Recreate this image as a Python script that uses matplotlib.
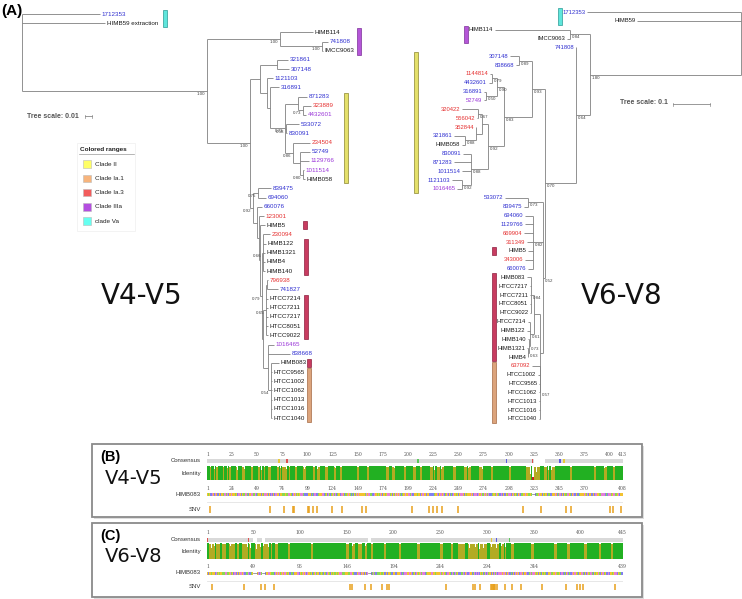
import matplotlib
matplotlib.use("Agg")
import matplotlib.pyplot as plt
from matplotlib.patches import Rectangle

W, H = 742, 599

# ---------------- data ----------------
# trees in newick form, branch lengths in tree units (left: 0.01 = 7 units, right: 0.1 = 37 units)
left_newick = """
(1712353:78,HIMB59_extraction:83,
 ((HIMB114:33,(741808:6,IMCC9063:1)1.00:42)1.00:73,
  (((321861:11,307148:12):17,
    (1121103:6,
     (316891:9,
      ((871283:9,(323889:8,4432601:3)0.73:5):13,
       (533072:13,830091:1)0.58:1,
       (234504:17,(52749:10,1129766:9,(1011514:0.5,HIMB058:2)0.80:3):7)0.86:8)0.73:15):3):7):10,
   ((839475:13,694060:8)0.75:5,
    (660076:5,
     (123001:5,
      (HIMB5:5,
       ((230094:7,HIMB122:3,HIMB1321:2,HIMB4:2,HIMB140:2)0.66:1,
        (((796938:1,741827:11):1,HTCC7214:2,HTCC7211:2,HTCC7217:2,HTCC8051:2,HTCC9022:2)0.65:3,
         (1016465:6,838668:22,
          (HIMB083:8,HTCC9565:1,HTCC1002:1,HTCC1062:1,HTCC1013:1,HTCC1016:1,HTCC1040:1)0.54:3):5):1)0.79:2):1):2):4)0.92:3)1.00:43)1.00:185);
"""

right_newick = """
(1712353:154,HIMB59:104,
 ((HIMB114:75,IMCC9063:3)0.84:20,
  (741808:0,
   (((307148:9,838668:3)0.89:13,
     (((1144814:2,4432601:3)0.79:5,(316891:2,52749:2)0.50:11)0.90:7,
      (((320422:16,556042:1)0.67:4,(352844:0,(321861:11,HIMB058:3)0.88:11):6):6,
       (830091:8,871283:17,1011514:9,(1121103:10,1016465:5)0.92:9)0.88:17)0.92:16)0.83:28)0.93:13,
    ((533072:23,839475:4)0.73:15,
     (694060:8,1129766:8,669904:9,311349:6,HIMB5:5,343006:8,660076:5)0.82:10,
     (((HIMB083:4,HTCC7217:1,HTCC7211:1,HTCC8051:1,HTCC9022:1)0.84:3,
       (HTCC7214:2,HIMB122:3,(HIMB140:1,(HIMB1321:1,HIMB4:0)0.63:1)0.73:1)0.61:4):6,
      (637092:8,HTCC1002:2,HTCC9565:1,HTCC1062:1,HTCC1013:1,HTCC1016:1,HTCC1040:1)0.57:0):3)0.52:2)0.70:31)0.64:14)1.80:151);
"""

left_blue = ["1712353", "741808", "321861", "307148", "1121103", "316891", "871283", "533072",
             "830091", "52749", "839475", "694060", "660076", "741827", "838668"]
left_red = ["323889", "234504", "123001", "230094", "796938"]
left_purple = ["4432601", "1129766", "1011514", "1016465"]

right_blue = ["1712353", "741808", "307148", "838668", "4432601", "316891", "321861", "830091",
              "871283", "1011514", "1121103", "533072", "839475", "694060", "1129766", "660076"]
right_red = ["1144814", "320422", "556042", "352844", "669904", "311349", "343006", "637092"]
right_purple = ["52749", "1016465"]

# colored ranges: tree, clade, first leaf, last leaf
ranges = [
    ("L", "clade Va", "1712353", "HIMB59_extraction"),
    ("L", "Clade IIIa", "HIMB114", "IMCC9063"),
    ("L", "Clade II", "871283", "HIMB058"),
    ("L", "Clade Ia.3", "HIMB5", "HIMB5"),
    ("L", "Clade Ia.3", "HIMB122", "HIMB140"),
    ("L", "Clade Ia.3", "HTCC7214", "HTCC9022"),
    ("L", "Clade Ia.3", "HIMB083", "HIMB083"),
    ("L", "Clade Ia.1", "HTCC9565", "HTCC1040"),
    ("R", "clade Va", "1712353", "HIMB59"),
    ("R", "Clade IIIa", "HIMB114", "IMCC9063"),
    ("R", "Clade II", "307148", "1016465"),
    ("R", "Clade Ia.3", "HIMB5", "HIMB5"),
    ("R", "Clade Ia.3", "HIMB083", "HIMB4"),
    ("R", "Clade Ia.1", "637092", "HTCC1040"),
]
range_x = [163, 357, 344, 303, 304, 304, 307, 307, 558, 464, 414, 492, 492, 492]

legend_clades = ["Clade II", "Clade Ia.1", "Clade Ia.3", "Clade IIIa", "clade Va"]
legend_colors = ["#ffff66", "#f7b47c", "#f25c5c", "#b44ee0", "#66fff0"]
bar_colors = {"Clade II": ("#e4e06a", "#8a8630"), "Clade Ia.1": ("#dca47c", "#a56b45"),
              "Clade Ia.3": ("#c83c60", "#8e2040"), "Clade IIIa": ("#b556d8", "#7d3099"),
              "clade Va": ("#5fe6dc", "#2a9a95")}

# alignment panels
b_len = 413
b_cons_ticks = [1, 25, 50, 75, 100, 125, 150, 175, 200, 225, 250, 275, 300, 325, 350, 375, 400, 413]
b_seq_labels = [1, 24, 49, 74, 99, 124, 149, 174, 199, 224, 249, 274, 298, 323, 345, 370, 408]
b_seq_label_pos = [1, 25, 50, 75, 100, 125, 150, 175, 200, 225, 250, 275, 300, 325, 350, 375, 413]
b_olive = [(4, 4), (10, 11), (17, 17), (23, 24), (30, 31), (36, 37), (45, 46), (52, 53), (58, 58),
           (62, 64), (70, 71), (75, 78), (82, 82), (88, 89), (96, 98), (106, 107), (111, 112),
           (118, 120), (127, 128), (133, 134), (150, 151), (160, 161), (179, 181), (185, 186),
           (197, 198), (206, 207), (212, 213), (222, 224), (229, 231), (234, 235), (245, 247),
           (256, 258), (261, 262), (271, 273), (283, 284), (301, 302), (318, 322), (326, 331),
           (336, 338), (343, 345), (361, 362), (385, 386), (396, 397), (404, 405)]
b_dips = [(8, 80), (21, 85), (31, 75), (38, 82), (55, 70), (73, 85), (79, 78), (97, 82),
          (110, 80), (128, 86), (187, 88), (226, 75), (233, 82), (260, 84), (274, 80),
          (322, 40), (324, 20), (325, 25), (328, 60), (340, 75), (343, 70), (395, 86)]
b_snv = [3, 63, 77, 86, 87, 101, 102, 106, 110, 125, 135, 154, 158, 204, 221, 225, 229, 234,
         250, 314, 332, 357, 362, 401, 404, 412]
b_cons_gaps = [(326, 336)]
b_cons_marks = [(72, "#e6c93a"), (80, "#e05050"), (210, "#5ac85a"), (298, "#5a5ae0"),
                (324, "#e05050"), (351, "#5a5ae0"), (355, "#e6c93a")]
b_seq = ("GTGCCAGCAGCCGCGGTAATACGGAGGGTGCAAGCGTTAATCGGAATTACTGGGCGTAAAGCGCACGCAGGCGGTTTGTT"
         "AAGTCAGATGTGAAATCCCCGGGCTCAACCTGGGAACTGCATCTGATACTGGCAAGCTTGAGTCTCGTAGAGGGGGGTAG"
         "AATTCCAGGTGTAGCGGTGAAATGCGTAGAGATCTGGAGGAATACCGGTGGCGAAGGCGGCCCCCTGGACGAAGACTGAC"
         "GCTCAGGTGCGAAAGCGTGGGGAGCAAACAGGATTAGATACCCTGGTAGTCCACGCCGTAAACGATGTCGACTTGGAGGT"
         "TGTGCCCTTGAGGCGTGGCTTCCGGAGCTAACGCGTTAAGTCGACCGCCTGGGGAGTACGGCCGCAAGGTTAAAACTCAA"
         "ATGAATTGACGGGGGCCCGCACAAG")
b_seq_gaps = [(324, 326)]

c_len = 445
c_cons_ticks = [1, 50, 100, 150, 200, 250, 300, 350, 400, 445]
c_seq_labels = [1, 49, 96, 146, 194, 244, 294, 344, 439]
c_seq_label_pos = [1, 50, 100, 150, 200, 250, 300, 350, 445]
c_olive = [(3, 8), (11, 14), (17, 20), (24, 30), (33, 34), (38, 44), (46, 47), (52, 58), (61, 66),
           (69, 70), (74, 76), (88, 89), (112, 113), (150, 152), (156, 158), (163, 166), (170, 171),
           (176, 178), (190, 192), (206, 208), (226, 228), (250, 252), (262, 263), (270, 276),
           (280, 290), (293, 300), (304, 312), (315, 318), (326, 328), (348, 350), (372, 374),
           (386, 388), (404, 406), (420, 422), (433, 434)]
c_dips = [(5, 70), (9, 80), (26, 82), (44, 75), (47, 70), (53, 60), (58, 72), (61, 80),
          (66, 75), (156, 80), (170, 82), (281, 70), (284, 60), (288, 75), (292, 65),
          (296, 70), (300, 55), (305, 72), (310, 68), (316, 80), (320, 75), (330, 85)]
c_snv = [6, 40, 58, 63, 72, 154, 156, 169, 176, 188, 193, 195, 256, 285, 287, 293, 304, 305,
         306, 307, 308, 309, 311, 319, 327, 336, 359, 384, 396, 400, 403, 437]
c_cons_gaps = [(50, 54), (60, 62), (173, 175)]
c_cons_marks = [(1, "#e05050"), (45, "#e05050"), (305, "#e6c93a"), (310, "#5a5ae0"),
                (324, "#5ac85a")]
c_seq = ("GCGGTGGAGCATGTGGTTTAATTCGATGCAACGCGAAGAACCTTACCTGGTCTTGACATCCACGGAAGTTTTCAGAGATG"
         "AGAATGTGCCTTCGGGAACCGTGAGACAGGTGCTGCATGGCTGTCGTCAGCTCGTGTTGTGAAATGTTGGGTTAAGTCCC"
         "GCAACGAGCGCAACCCTTATCCTTTGTTGCCAGCGGTCCGGCCGGGAACTCAAAGGAGACTGCCAGTGATAAACTGGAGG"
         "AAGGTGGGGATGACGTCAAGTCATCATGGCCCTTACGACCAGGGCTACACACGTGCTACAATGGCGCATACAAAGAGAAG"
         "CGACCTCGCGAGAGCAAGCGGACCTCATAAAGTGCGTCGTAGTCCGGATTGGAGTCTGCAACTCGACTCCATGAAGTCGG"
         "AATCGCTAGTAATCGTGGATCAGAATGCCACGGTGAATACGTTCCCGGGCCTTGTACACACCGCCCGTCAC")
c_seq_gaps = [(50, 54), (60, 62), (173, 175)]

nt_colors = {"A": "#e67fd6", "C": "#8080f0", "G": "#f2c230", "T": "#8ada50"}

# ---------------- helpers ----------------
FONT = "Liberation Sans"
LINE = "#808080"


def parse_newick(s):
    s = "".join(s.split()).rstrip(";")
    i = 0

    def token():
        nonlocal i
        j = i
        while i < len(s) and s[i] not in ",():":
            i += 1
        return s[j:i]

    def node():
        nonlocal i
        kids = []
        if s[i] == "(":
            i += 1
            kids.append(node())
            while s[i] == ",":
                i += 1
                kids.append(node())
            i += 1
        label = token()
        length = 0.0
        if i < len(s) and s[i] == ":":
            i += 1
            length = float(token())
        return {"label": label, "len": length, "kids": kids}

    return node()


def layout(tree, x0, direction, y0, dy):
    leaves = []

    def walk(n, x):
        n["x"] = x
        if not n["kids"]:
            n["y"] = y0 + len(leaves) * dy
            leaves.append(n)
        else:
            for k in n["kids"]:
                walk(k, x + direction * k["len"])
            n["y"] = (n["kids"][0]["y"] + n["kids"][-1]["y"]) / 2

    walk(tree, x0)
    return leaves


def draw_tree(ax, n, direction, colors, fsize, is_root=True):
    ha = "left" if direction > 0 else "right"
    if n["kids"]:
        ax.plot([n["x"], n["x"]], [n["kids"][0]["y"], n["kids"][-1]["y"]], color=LINE, lw=0.6,
                solid_capstyle="butt")
        for k in n["kids"]:
            ax.plot([n["x"], k["x"]], [k["y"], k["y"]], color=LINE, lw=0.6, solid_capstyle="butt")
            draw_tree(ax, k, direction, colors, fsize, False)
        if n["label"] and not is_root:
            ax.text(n["x"] - direction * 1.5, n["y"] + 1.0, n["label"], fontsize=3.2,
                    color="#444444", ha="right" if direction > 0 else "left", va="top",
                    family=FONT)
    else:
        ax.text(n["x"] + direction * 1.8, n["y"], n["label"].replace("_", " "), fontsize=fsize,
                color=colors.get(n["label"], "#1a1a1a"), ha=ha, va="center", family=FONT)


def color_map(blue, red, purple):
    c = {}
    for nm in blue:
        c[nm] = "#2f2fd0"
    for nm in red:
        c[nm] = "#e53030"
    for nm in purple:
        c[nm] = "#9a35d8"
    return c


# ---------------- figure ----------------
fig = plt.figure(figsize=(W / 100, H / 100), dpi=100)
ax = fig.add_axes([0, 0, 1, 1])
ax.set_xlim(0, W)
ax.set_ylim(H, 0)
ax.axis("off")

ltree = parse_newick(left_newick)
rtree = parse_newick(right_newick)
lleaves = layout(ltree, 22, 1, 14, 404 / 44)
rleaves = layout(rtree, 741, -1, 12, 407 / 46)
draw_tree(ax, ltree, 1, color_map(left_blue, left_red, left_purple), 4.5)
draw_tree(ax, rtree, -1, color_map(right_blue, right_red, right_purple), 4.2)

leaf_y = {"L": {n["label"]: n["y"] for n in lleaves}, "R": {n["label"]: n["y"] for n in rleaves}}
for (tree, clade, a, b), bx in zip(ranges, range_x):
    dy = 404 / 44 if tree == "L" else 407 / 46
    y0 = leaf_y[tree][a] - dy * 0.45
    y1 = leaf_y[tree][b] + dy * 0.45
    fc, ec = bar_colors[clade]
    ax.add_patch(Rectangle((bx, y0), 3.5, y1 - y0, fc=fc, ec=ec, lw=0.5))

# tree scales
ax.text(27, 116, "Tree scale: 0.01", fontsize=5, fontweight="bold", color="#555555",
        va="center", family=FONT)
ax.plot([85, 85 + 7], [116, 116], color="#888888", lw=0.6)
ax.plot([85, 85], [114.5, 117.5], color="#888888", lw=0.5)
ax.plot([92, 92], [114.5, 117.5], color="#888888", lw=0.5)
ax.text(620, 103, "Tree scale: 0.1", fontsize=5, fontweight="bold", color="#555555",
        va="center", family=FONT)
ax.plot([673, 673 + 37], [104, 104], color="#888888", lw=0.6)
ax.plot([673, 673], [102.5, 105.5], color="#888888", lw=0.5)
ax.plot([710, 710], [102.5, 105.5], color="#888888", lw=0.5)

# legend
ax.add_patch(Rectangle((77, 143), 58, 88, fc="white", ec="#eeeeee", lw=0.5))
ax.text(80, 149, "Colored ranges", fontsize=4.6, fontweight="bold", color="#222222",
        va="center", family=FONT)
ax.plot([79, 134], [153.5, 153.5], color="#999999", lw=0.5)
for i, (lab, col) in enumerate(zip(legend_clades, legend_colors)):
    y = 164 + i * 14.3
    ax.add_patch(Rectangle((83, y - 3.8), 7.5, 7.5, fc=col, ec="#bbbbbb", lw=0.4))
    ax.text(95, y, lab, fontsize=4.6, color="#222222", va="center", family=FONT)

ax.text(1, 11, "(A)", fontsize=11, fontweight="bold", va="center", family=FONT)
ax.text(142, 296, "V4-V5", fontsize=20, ha="center", va="center", color="#111111")
ax.text(622, 296, "V6-V8", fontsize=20, ha="center", va="center", color="#111111")


# ---------------- alignment panels ----------------
def panel(box, tag, region, n, cons_ticks, seq_labels, seq_label_pos, olive, dips, snv,
          cons_gaps, cons_marks, seq, seq_gaps, rows):
    bx0, by0, bx1, by1 = box
    ax.add_patch(Rectangle((bx0 + 1.5, by0 + 1.5), bx1 - bx0, by1 - by0, fc="#dddddd", ec="none"))
    ax.add_patch(Rectangle((bx0, by0), bx1 - bx0, by1 - by0, fc="white", ec="#8a8a8a", lw=1.3))
    ax.text(bx0 + 8, by0 + 13, tag, fontsize=10.5, fontweight="bold", va="center", family=FONT)
    ax.text(134, by0 + 34, region, fontsize=14, ha="center", va="center", color="#111111")
    y_tick, y_cons, y_id0, y_id1, y_stick, y_seq, y_sep, y_snv0, y_snv1 = rows
    names = ["Consensus", "Identity", "HIMB083", "SNV"]
    ys = [y_cons + 1.5, (y_id0 + y_id1) / 2, y_seq + 1, (y_snv0 + y_snv1) / 2]
    for nm, y in zip(names, ys):
        ax.text(201, y, nm, fontsize=4.3, ha="right", va="center", color="#333333", family=FONT)

    x0, x1 = 207, 623
    tax = fig.add_axes([x0 / W, 1 - y_snv1 / H, (x1 - x0) / W, (y_snv1 - y_tick + 4) / H])
    tax.set_xlim(0.5, n + 0.5)
    tax.set_ylim(y_snv1, y_tick - 4)
    tax.axis("off")

    # consensus bar
    segs = []
    start = 1
    for g0, g1 in cons_gaps:
        segs.append((start - 0.5, g0 - start))
        start = g1 + 1
    segs.append((start - 0.5, n + 1 - start))
    tax.broken_barh(segs, (y_cons, 3.5), facecolors="#d9d9d9")
    for p, col in cons_marks:
        tax.bar(p, 3.5, bottom=y_cons, width=1.2, color=col)
    for t in cons_ticks:
        tax.text(t, y_tick, str(t), fontsize=3.3, ha="center", va="center", color="#555555",
                 family="DejaVu Serif")
    for lab, p in zip(seq_labels, seq_label_pos):
        tax.text(p, y_stick, str(lab), fontsize=3.3, ha="center", va="center", color="#555555",
                 family="DejaVu Serif")

    # identity
    ident = [100.0] * n
    col = ["#22b022"] * n
    for a, b in olive:
        for p in range(a, min(b, n) + 1):
            col[p - 1] = "#b3ab22"
            ident[p - 1] = 96.0
    for p, v in dips:
        ident[p - 1] = v
        col[p - 1] = "#b3ab22" if v >= 30 else "#cc2020"
    hgt = y_id1 - y_id0
    pos = list(range(1, n + 1))
    tax.bar(pos, [hgt * v / 100 for v in ident], bottom=[y_id1 - hgt * v / 100 for v in ident],
            width=1.0, color=col, linewidth=0)

    # sequence
    s = seq[:n]
    tax.bar(pos, 2.6, bottom=y_seq, width=1.0, color=[nt_colors[c] for c in s], linewidth=0)
    for a, b in seq_gaps:
        tax.bar(range(a, b + 1), 2.6, bottom=y_seq, width=1.0, color="white", linewidth=0)
        tax.plot([a - 0.5, b + 0.5], [y_seq + 1.3, y_seq + 1.3], color="#777777", lw=0.5)

    # separator and SNVs
    tax.plot([0.5, n + 0.5], [y_sep, y_sep], color="#e3e3e3", lw=0.6)
    tax.vlines(snv, y_snv0, y_snv1, color="#e8a11c", lw=1.1)


panel((92, 444, 642, 517), "(B)", "V4-V5", b_len, b_cons_ticks, b_seq_labels, b_seq_label_pos,
      b_olive, b_dips, b_snv, b_cons_gaps, b_cons_marks, b_seq, b_seq_gaps,
      (454, 459, 466, 480, 488, 493, 502, 505.5, 513))
panel((92, 523, 642, 597), "(C)", "V6-V8", c_len, c_cons_ticks, c_seq_labels, c_seq_label_pos,
      c_olive, c_dips, c_snv, c_cons_gaps, c_cons_marks, c_seq, c_seq_gaps,
      (533, 538, 543, 559, 566, 572, 581, 583.5, 590))

fig.savefig("out.png", dpi=100)
